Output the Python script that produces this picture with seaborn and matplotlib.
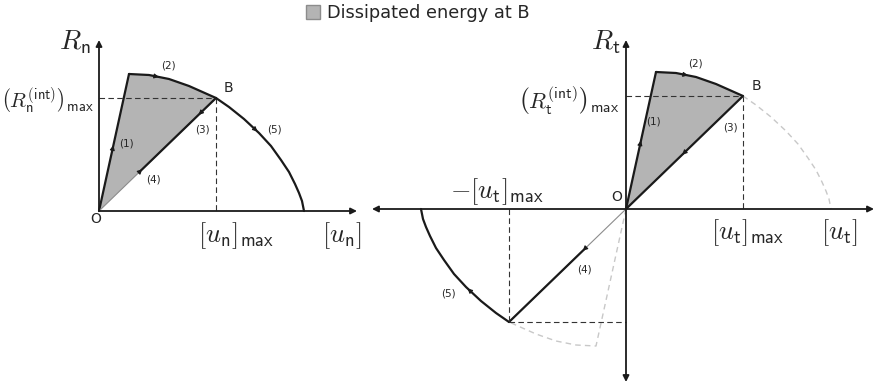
import numpy as np
import pandas as pd
import matplotlib
matplotlib.use("Agg")
import matplotlib.pyplot as plt
from matplotlib.patches import Patch
import seaborn as sns

# envelope of the traction-separation law (origin = O)
env_u = [30, 50, 70, 90, 117, 130, 145, 160, 172, 182, 190, 196, 200, 203, 205]
env_R = [137, 136, 132, 125, 113, 104, 92, 78, 65, 51, 39, 27, 18, 10, 0]
iB = 4  # index of point B on the envelope

# where the thick unloading/reloading segment stops (fraction of O-B)
knee = 0.36

# labels of the path pieces
seg_labels = ["(1)", "(2)", "(3)", "(4)", "(5)"]
left_lab_pos = [(27, 67), (69, 145), (103, 81), (54, 32), (175, 81)]
right_lab_pos = [(27, 88), (69, 145), (104, 81), (-42, -60), (-178, -85)]

fill_col = "#b4b4b4"
gray_dash = "#c8c8c8"

sns.set_theme(style="white")
plt.rcParams["mathtext.fontset"] = "cm"
plt.rcParams["font.family"] = ["DejaVu Sans"]

u = np.array(env_u, float)
R = np.array(env_R, float)
B = np.array([u[iB], R[iB]])
P = np.array([u[0], R[0]])


def line(ax, x, y, **kw):
    df = pd.DataFrame({"x": x, "y": y})
    sns.lineplot(data=df, x="x", y="y", sort=False, estimator=None, ax=ax, **kw)


def axis_arrow(ax, start, end):
    ax.annotate("", xy=end, xytext=start,
                arrowprops=dict(arrowstyle="-|>", color="k", lw=1.3,
                                mutation_scale=9, shrinkA=0, shrinkB=0))


def mid_arrow(ax, a, b, t=0.5):
    a = np.asarray(a, float)
    b = np.asarray(b, float)
    d = (b - a) / np.hypot(*(b - a))
    tip = a + (b - a) * t
    ax.annotate("", xy=tip, xytext=tip - d * 5,
                arrowprops=dict(arrowstyle="-|>", color="k", lw=0.8,
                                mutation_scale=7, shrinkA=0, shrinkB=0))


def common(ax):
    ax.set_axis_off()
    # dissipated energy
    ax.fill(np.r_[0, u[:iB + 1]], np.r_[0, R[:iB + 1]], color=fill_col, lw=0, zorder=1)
    # loading (1) and softening (2)
    line(ax, [0, u[0]], [0, R[0]], color="k", lw=1.6)
    line(ax, u[:iB + 1], R[:iB + 1], color="k", lw=1.6)
    # dashed guides to B
    line(ax, [0, B[0]], [B[1], B[1]], color="#333333", lw=0.8, ls=(0, (5, 3)))
    line(ax, [B[0], B[0]], [B[1], 0], color="#333333", lw=0.8, ls=(0, (5, 3)))


fig = plt.figure(figsize=(8.75, 3.87), dpi=100)

# ---------------- left panel: normal direction ----------------
axL = fig.add_axes([0, 0, 360 / 875, 1])
axL.set_xlim(-99, 261)
axL.set_ylim(-176, 211)
common(axL)
line(axL, [0, B[0]], [0, B[1]], color="#8c8c8c", lw=0.8)
line(axL, [B[0] * knee, B[0]], [B[1] * knee, B[1]], color="k", lw=1.6)
line(axL, u[iB:], R[iB:], color="k", lw=1.6)
axis_arrow(axL, (0, 0), (258, 0))
axis_arrow(axL, (0, 0), (0, 171))
mid_arrow(axL, (0, 0), P, 0.48)
mid_arrow(axL, (u[1], R[1]), (u[2], R[2]), 0.5)
mid_arrow(axL, B, (0, 0), 0.15)
mid_arrow(axL, (0, 0), B, 0.37)
mid_arrow(axL, (u[6], R[6]), (u[7], R[7]), 0.9)
for s, (x, y) in zip(seg_labels, left_lab_pos):
    axL.text(x, y, s, fontsize=7.5, ha="center", va="center")
axL.text(129, 123, "B", fontsize=10, ha="center", va="center")
axL.text(-3, -8, "O", fontsize=10, ha="center", va="center")
axL.text(-24, 169, r"$R_{\mathsf{n}}$", fontsize=20, ha="center", va="center")
axL.text(-52, 110, r"$\left(R_{\mathsf{n}}^{(\mathsf{int})}\right)_{\mathsf{max}}$",
         fontsize=15, ha="center", va="center")
axL.text(137, -25, r"$[u_{\mathsf{n}}]_{\mathsf{max}}$", fontsize=19,
         ha="center", va="center")
axL.text(243, -25, r"$[u_{\mathsf{n}}]$", fontsize=19, ha="center", va="center")

# ---------------- right panel: tangential direction ----------------
axR = fig.add_axes([360 / 875, 0, 515 / 875, 1])
axR.set_xlim(-266, 249)
axR.set_ylim(-178, 209)
common(axR)
# rest of envelope, not followed
line(axR, u[iB:], R[iB:], color=gray_dash, lw=1.0, ls=(0, (4, 3)))
line(axR, np.r_[0, -u[:iB + 1]], np.r_[0, -R[:iB + 1]], color=gray_dash, lw=1.0, ls=(0, (4, 3)))
# unloading (3) to O, loading (4) in the negative direction, softening (5)
C = -B
line(axR, [0, B[0]], [0, B[1]], color="k", lw=1.6)
line(axR, [0, C[0]], [0, C[1]], color="#8c8c8c", lw=0.8)
line(axR, [C[0] * knee, C[0]], [C[1] * knee, C[1]], color="k", lw=1.6)
line(axR, -u[iB:], -R[iB:], color="k", lw=1.6)
line(axR, [C[0], C[0]], [0, C[1]], color="#333333", lw=0.8, ls=(0, (5, 3)))
line(axR, [C[0], 0], [C[1], C[1]], color="#333333", lw=0.8, ls=(0, (5, 3)))
axis_arrow(axR, (0, 0), (248, 0))
axis_arrow(axR, (0, 0), (-254, 0))
axis_arrow(axR, (0, 0), (0, 169))
axis_arrow(axR, (0, 0), (0, -173))
mid_arrow(axR, (0, 0), P, 0.5)
mid_arrow(axR, (u[1], R[1]), (u[2], R[2]), 0.6)
mid_arrow(axR, B, (0, 0), 0.52)
mid_arrow(axR, (0, 0), C, 0.37)
mid_arrow(axR, (-u[6], -R[6]), (-u[7], -R[7]), 0.9)
for s, (x, y) in zip(seg_labels, right_lab_pos):
    axR.text(x, y, s, fontsize=7.5, ha="center", va="center")
axR.text(130, 123, "B", fontsize=10, ha="center", va="center")
axR.text(-9, 12, "O", fontsize=10, ha="center", va="center")
axR.text(-20, 167, r"$R_{\mathsf{t}}$", fontsize=20, ha="center", va="center")
axR.text(-57, 108, r"$\left(R_{\mathsf{t}}^{(\mathsf{int})}\right)_{\mathsf{max}}$",
         fontsize=16, ha="center", va="center")
axR.text(-129, 17, r"$-[u_{\mathsf{t}}]_{\mathsf{max}}$", fontsize=19,
         ha="center", va="center")
axR.text(122, -24, r"$[u_{\mathsf{t}}]_{\mathsf{max}}$", fontsize=19,
         ha="center", va="center")
axR.text(213, -24, r"$[u_{\mathsf{t}}]$", fontsize=19, ha="center", va="center")

fig.legend(handles=[Patch(facecolor=fill_col, edgecolor="#8c8c8c")],
           labels=["Dissipated energy at B"], loc="center",
           bbox_to_anchor=(418 / 875, 1 - 13 / 387), frameon=False, fontsize=12.8,
           handlelength=0.8, handleheight=0.8, handletextpad=0.4)

fig.savefig("out.png", dpi=100)
